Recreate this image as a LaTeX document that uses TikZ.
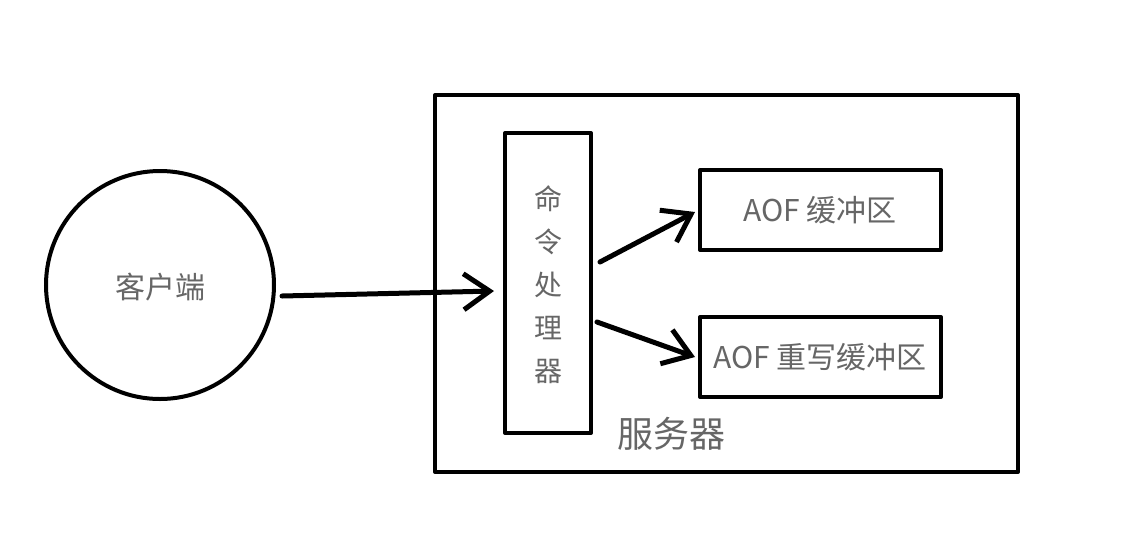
\documentclass[tikz,border=0pt]{standalone}
\usepackage{fontspec}
\setmainfont{Noto Sans CJK SC}
\usetikzlibrary{arrows.meta}
\definecolor{txt}{HTML}{666666}
\tikzset{
  box/.style={draw=black, line width=4pt, line join=round, rectangle, inner sep=0pt},
  lbl/.style={text=txt, font=\fontsize{30}{36}\selectfont},
  conn/.style={draw=black, line width=5pt, line cap=round,
    -{Straight Barb[length=26pt,width=36pt,line width=5pt]}}
}
\begin{document}
\begin{tikzpicture}[x=1pt,y=-1pt]
\useasboundingbox (0,0) rectangle (1132,550);
% client
\node[draw=black, line width=4pt, circle, minimum size=228pt, inner sep=0pt] (client) at (160,285) {};
\node[lbl] (clientlbl) at (160,287) {客户端};
% server
\node[box, minimum width=583pt, minimum height=377pt] (server) at (726.5,283.5) {};
\node[text=txt, font=\fontsize{36}{40}\selectfont] (serverlbl) at (671,434) {服务器};
% command processor
\node[box, minimum width=86pt, minimum height=300pt] (cmd) at (548,283) {};
\node[lbl, align=center, font=\fontsize{28}{43}\selectfont] (cmdlbl) at (548,285) {命\\令\\处\\理\\器};
% AOF buffers
\node[box, minimum width=241pt, minimum height=80pt] (aof) at (820.5,210) {};
\node[lbl] (aoflbl) at (820,210) {AOF 缓冲区};
\node[box, minimum width=241pt, minimum height=80pt] (aofr) at (820.5,357) {};
\node[lbl] (aofrlbl) at (820,357) {AOF 重写缓冲区};
% connectors
\coordinate (a1s) at ([xshift=6pt,yshift=-11pt]client.east);
\coordinate (a1e) at ([xshift=-9pt,yshift=-8pt]cmd.west);
\draw[conn] (a1s) -- (a1e);
\coordinate (a2s) at ([xshift=7pt,yshift=21pt]cmd.east);
\coordinate (a2e) at ([xshift=-3pt,yshift=-2pt]aof.west);
\draw[conn] (a2s) -- (a2e);
\coordinate (a3s) at ([xshift=4pt,yshift=-39pt]cmd.east);
\coordinate (a3e) at ([xshift=-3pt]aofr.west);
\draw[conn] (a3s) -- (a3e);
\end{tikzpicture}
\end{document}
